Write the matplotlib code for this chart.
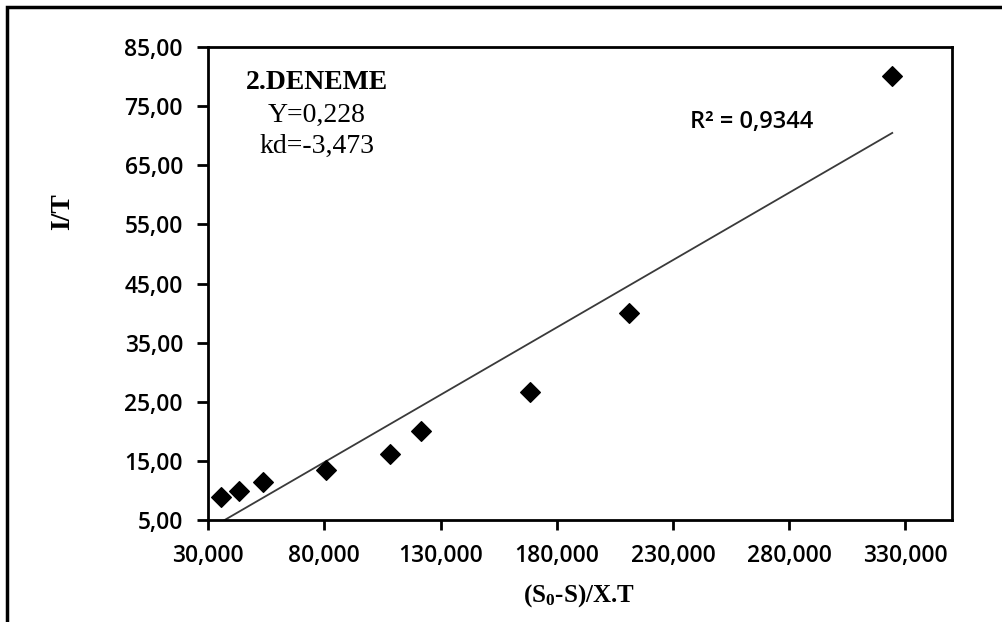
import numpy as np
import matplotlib
matplotlib.use("Agg")
import matplotlib.pyplot as plt
from matplotlib.patches import Rectangle
from matplotlib.ticker import FuncFormatter

x_vals = [35600, 43300, 53700, 80800, 108300, 121700, 168600, 211200, 324300]
y_vals = [8.9, 9.9, 11.4, 13.5, 16.2, 20.1, 26.7, 40.0, 80.1]
x_ticks = [30000, 80000, 130000, 180000, 230000, 280000, 330000]
y_ticks = [5, 15, 25, 35, 45, 55, 65, 75, 85]
fit_slope = 0.228 / 1000   # "Y=0,228" per 1000 units of x
fit_intercept = -3.473     # "kd=-3,473"

plt.rcParams['mathtext.fontset'] = 'custom'
plt.rcParams['mathtext.rm'] = 'Liberation Serif:bold'
plt.rcParams['mathtext.it'] = 'Liberation Serif:bold'
plt.rcParams['mathtext.bf'] = 'Liberation Serif:bold'

W, H = 1003, 622
fig = plt.figure(figsize=(W/100, H/100), dpi=100)
ax = fig.add_axes([208/W, 1-520/H, (952-208)/W, (520-47)/H])

ax.scatter(x_vals, y_vals, marker='D', s=100, color='black', zorder=3)
xl = np.array([min(x_vals), max(x_vals)])
ax.plot(xl, fit_slope * xl + fit_intercept, color='#3a3a3a', lw=1.3, zorder=2)

ax.set_xlim(30000, 350000)
ax.set_ylim(5, 85)
ax.set_xticks(x_ticks)
ax.set_yticks(y_ticks)
ax.xaxis.set_major_formatter(FuncFormatter(lambda v, p: f"{v/1000:.3f}".replace('.', ',')))
ax.yaxis.set_major_formatter(FuncFormatter(lambda v, p: f"{v:.2f}".replace('.', ',')))
for lab in ax.get_xticklabels() + ax.get_yticklabels():
    lab.set_fontfamily('Open Sans')
    lab.set_fontsize(16.5)
    lab.set_fontweight('semibold')
ax.tick_params(axis='y', direction='out', length=8, width=2, pad=10)
ax.tick_params(axis='x', direction='out', length=7, width=2, pad=10)
for s in ax.spines.values():
    s.set_linewidth(2)

fig.text(63/W, 1-212/H, 'I/T', rotation=90, ha='center', va='center',
         fontfamily='Liberation Serif', fontweight='bold', fontsize=20)
fig.text(579/W, 1-596/H, '(S$_0$-S)/X.T', ha='center', va='center',
         fontfamily='Liberation Serif', fontweight='bold', fontsize=18)

ax.text(0.1465, 0.926, '2.DENEME', transform=ax.transAxes, ha='center', va='center',
        fontfamily='Liberation Serif', fontweight='bold', fontsize=20)
ax.text(0.1465, 0.856, 'Y=0,228', transform=ax.transAxes, ha='center', va='center',
        fontfamily='Liberation Serif', fontsize=20)
ax.text(0.1465, 0.789, 'kd=-3,473', transform=ax.transAxes, ha='center', va='center',
        fontfamily='Liberation Serif', fontsize=20)
ax.text(0.731, 0.841, 'R² = 0,9344', transform=ax.transAxes, ha='center', va='center',
        fontfamily='Open Sans', fontweight='semibold', fontsize=17)

fig.patches.append(Rectangle((7/W, -0.5), 2.0, 1.5 - 7/H, transform=fig.transFigure,
                             fill=False, lw=2.5, edgecolor='black', clip_on=False))

fig.savefig('out.png', dpi=100)
